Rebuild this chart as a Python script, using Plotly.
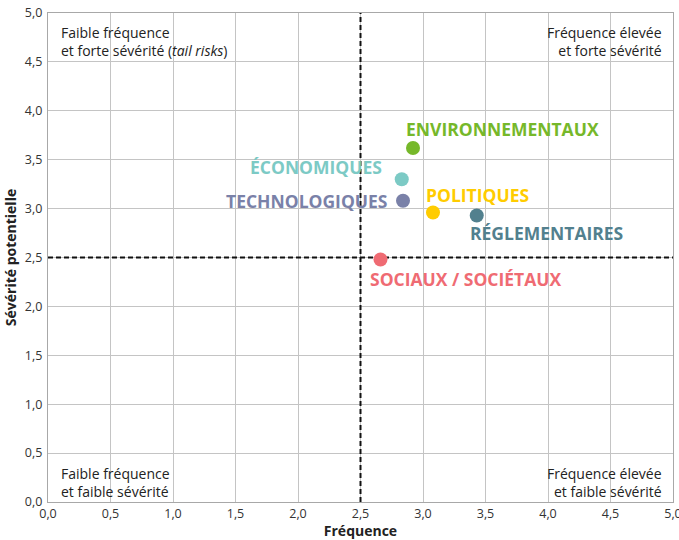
import plotly.graph_objects as go

categories = ["ENVIRONNEMENTAUX", "ÉCONOMIQUES", "TECHNOLOGIQUES", "POLITIQUES", "RÉGLEMENTAIRES", "SOCIAUX / SOCIÉTAUX"]
frequence = [2.92, 2.83, 2.84, 3.08, 3.43, 2.66]
severite = [3.62, 3.30, 3.08, 2.96, 2.93, 2.48]
colors = ["#76b82a", "#7ccac5", "#7a81a8", "#ffcc00", "#52808e", "#ef6b73"]
# label placement: (xanchor, xshift, yshift)
label_pos = [("left", -9, 19), ("right", -18, 12), ("right", -13, 0), ("left", -9, 18), ("left", -9, -18), ("left", -13, -20)]

threshold = 2.5
axis_max = 5

ticks = [0, 0.5, 1, 1.5, 2, 2.5, 3, 3.5, 4, 4.5, 5]
ticktext = [f"{t:.1f}".replace(".", ",") for t in ticks]

quadrants = [
    (0.09, 4.92, "left", "Faible fréquence<br>et forte sévérité (<i>tail risks</i>)"),
    (4.93, 4.92, "right", "Fréquence élevée<br>et forte sévérité"),
    (0.09, 0.41, "left", "Faible fréquence<br>et faible sévérité"),
    (4.93, 0.41, "right", "Fréquence élevée<br>et faible sévérité"),
]

FONT = "Open Sans"

fig = go.Figure()
dash_line = dict(color="#111111", width=2, dash="5px,3px")
fig.add_trace(go.Scatter(x=[threshold, threshold], y=[0, axis_max], mode="lines", line=dash_line,
                         hoverinfo="skip", showlegend=False, cliponaxis=False))
fig.add_trace(go.Scatter(x=[0, axis_max], y=[threshold, threshold], mode="lines", line=dash_line,
                         hoverinfo="skip", showlegend=False, cliponaxis=False))
fig.add_trace(go.Scatter(
    x=frequence, y=severite, mode="markers",
    marker=dict(size=14, color=colors),
    hoverinfo="skip", showlegend=False, cliponaxis=False,
))

for (cx, cy, anchor, txt) in quadrants:
    fig.add_annotation(x=cx, y=cy, xref="x", yref="y", text=txt, showarrow=False,
                       xanchor=anchor, yanchor="top", align=anchor,
                       font=dict(family=FONT, size=14, color="#222222"))

for cat, fx, sy, col, (anc, xs, ys) in zip(categories, frequence, severite, colors, label_pos):
    fig.add_annotation(x=fx, y=sy, xref="x", yref="y", text=f"<b>{cat}</b>", showarrow=False,
                       xanchor=anc, yanchor="middle", xshift=xs, yshift=ys,
                       font=dict(family=FONT, size=17.5, color=col))

axis_common = dict(
    range=[0, axis_max], tickvals=ticks, ticktext=ticktext, showgrid=True,
    gridcolor="#c4c4c4", gridwidth=1.3, zeroline=False, showline=True,
    linecolor="#a8a8a8", linewidth=1.3, mirror=True, automargin=False,
    ticklabeloverflow="allow",
    tickfont=dict(family=FONT, size=12.5, color="#333333"),
)

fig.update_layout(
    width=679, height=540,
    margin=dict(l=48, r=6, t=13, b=38, autoexpand=False),
    plot_bgcolor="white", paper_bgcolor="white",
    xaxis=dict(**axis_common, ticklabelstandoff=0, title=dict(text="<b>Fréquence</b>", standoff=0,
               font=dict(family=FONT, size=14, color="#222222"))),
    yaxis=dict(**axis_common, ticklabelstandoff=2, title=dict(text="<b>Sévérité potentielle</b>", standoff=4,
               font=dict(family=FONT, size=14, color="#222222"))),
)

fig.write_html("out.html", config={"displayModeBar": False},
               post_script="document.body.style.margin='0';document.body.style.overflow='hidden';")
